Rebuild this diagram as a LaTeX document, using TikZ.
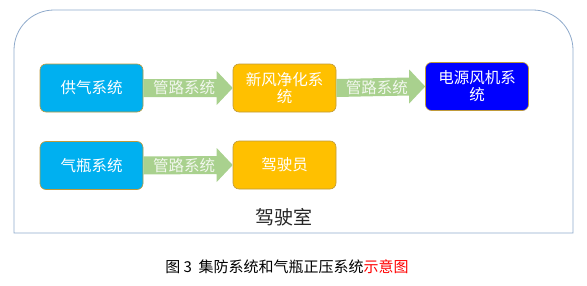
\documentclass[tikz,border=0pt]{standalone}
\usepackage{fontspec}
\newfontfamily\cjk{Noto Sans CJK SC}
\usetikzlibrary{calc}
\definecolor{frameblue}{HTML}{8FAACB}
\definecolor{cyanbox}{HTML}{00B0F0}
\definecolor{orangebox}{HTML}{FFC000}
\definecolor{bluebox}{HTML}{0000FF}
\definecolor{boxline}{HTML}{BF9A3A}
\definecolor{arrowgreen}{HTML}{A9D18E}
\definecolor{arrowtext}{HTML}{F2F7EE}
\definecolor{capred}{HTML}{FF0000}
\tikzset{
  sysbox/.style={draw=boxline, line width=0.6pt, rounded corners=6pt,
    minimum width=103pt, minimum height=48pt, inner sep=2pt,
    text=white, font=\cjk\fontsize{15.5}{17}\selectfont, align=center},
  pipelabel/.style={text=arrowtext, font=\cjk\fontsize{15.5}{18}\selectfont, inner sep=0pt},
  pipe/.style={fill=arrowgreen, draw=none}
}
\newcommand{\pipearrow}[2]{%
  \fill[pipe] ($(#1.east)+(0,9)$) -- ($(#2.west)+(-16,9)$) -- ($(#2.west)+(-16,17)$)
    -- (#2.west) -- ($(#2.west)+(-16,-17)$) -- ($(#2.west)+(-16,-9)$)
    -- ($(#1.east)+(0,-9)$) -- cycle;
  \node[pipelabel] at ($(#1.east)!0.5!(#2.west)+(-4,0)$) {管路系统};%
}
\begin{document}
\begin{tikzpicture}[x=1pt,y=1pt]
\useasboundingbox (0,0) rectangle (587,285);
% frame
\draw[frameblue, line width=0.8pt] (14,52) -- (14,235) arc[start angle=180, end angle=90, radius=40] -- (533,275)
  arc[start angle=90, end angle=0, radius=40] -- (573,52) -- cycle;
% boxes
\node[sysbox, fill=cyanbox] (gq) at (91.5,197) {供气系统};
\node[sysbox, fill=orangebox] (xf) at (284.5,197) {新风净化系\\统};
\node[sysbox, fill=bluebox] (dy) at (477,198.5) {电源风机系\\统};
\node[sysbox, fill=cyanbox] (qp) at (91.5,119.5) {气瓶系统};
\node[sysbox, fill=orangebox] (js) at (284.5,120) {驾驶员};
% arrows
\pipearrow{gq}{xf}
\pipearrow{xf}{dy}
\pipearrow{qp}{js}
% room label
\node[font=\cjk\fontsize{19}{22}\selectfont, text=black!85] (room) at (284,68) {驾驶室};
% caption
\node[font=\cjk\fontsize{15}{18}\selectfont, text=black] (cap) at (287,18)
  {图 3\ \ 集防系统和气瓶正压系统\textcolor{capred}{示意图}};
\end{tikzpicture}
\end{document}
